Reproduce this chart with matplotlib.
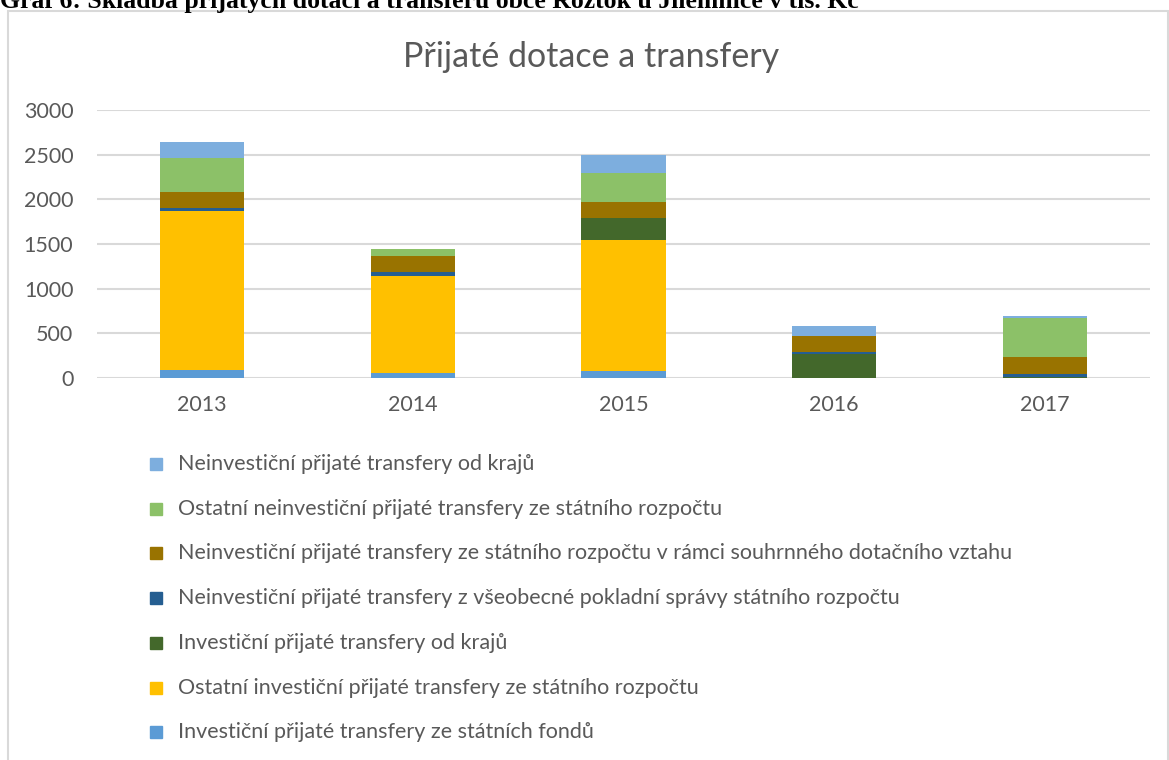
import numpy as np
import matplotlib.pyplot as plt
from matplotlib.patches import Rectangle

plt.rcParams['font.family'] = ['Lato', 'DejaVu Sans']

# data (tis. Kč)
years = ['2013', '2014', '2015', '2016', '2017']
series_names = [
    'Investiční přijaté transfery ze státních fondů',
    'Ostatní investiční přijaté transfery ze státního rozpočtu',
    'Investiční přijaté transfery od krajů',
    'Neinvestiční přijaté transfery z všeobecné pokladní správy státního rozpočtu',
    'Neinvestiční přijaté transfery ze státního rozpočtu v rámci souhrnného dotačního vztahu',
    'Ostatní neinvestiční přijaté transfery ze státního rozpočtu',
    'Neinvestiční přijaté transfery od krajů',
]
fondy = [93, 52, 75, 0, 0]
ostatni_inv = [1774, 1094, 1468, 0, 0]
inv_kraje = [0, 0, 253, 272, 15]
vseobecna = [40, 41, 0, 23, 33]
souhrnny = [176, 179, 175, 175, 183]
ostatni_neinv = [381, 75, 328, 0, 441]
neinv_kraje = [179, 0, 202, 112, 22]
colors = ['#5B9BD5', '#FFC000', '#43682B', '#255E91', '#997300', '#8CC168', '#7DAEDE']

values = [fondy, ostatni_inv, inv_kraje, vseobecna, souhrnny, ostatni_neinv, neinv_kraje]

W, H = 1169, 760
fig = plt.figure(figsize=(W / 100, H / 100), dpi=100)

# chart frame
fig.patches.append(Rectangle((8 / W, -0.1), (1168 - 8) / W, 1.1 - 11 / H,
                             transform=fig.transFigure, fill=False,
                             edgecolor='#d9d9d9', linewidth=1.5))

# caption above the chart (cut off at the top, as in the document)
fig.text(0 / W, 1 - 8 / H, 'Graf 6: Skladba přijatých dotací a transferů obce Roztok u Jilemnice v tis. Kč',
         family='Liberation Serif', fontweight='bold', fontsize=18.5, va='baseline', ha='left')

ax = fig.add_axes([97 / W, 1 - 378 / H, (1150 - 97) / W, (378 - 110) / H])
x = np.arange(len(years))
bottom = np.zeros(len(years))
for name, vals, c in zip(series_names, values, colors):
    ax.bar(x, vals, 0.4, bottom=bottom, color=c, label=name, zorder=3)
    bottom += np.array(vals)

ax.set_xlim(-0.5, len(years) - 0.5)
ax.set_ylim(0, 3000)
ax.set_yticks(range(0, 3001, 500))
ax.set_xticks(x)
ax.set_xticklabels(years)
ax.grid(axis='y', color='#d9d9d9', linewidth=1.5, zorder=0)
for s in ax.spines.values():
    s.set_visible(False)
ax.tick_params(length=0, labelsize=15.5, colors='#595959')
ax.tick_params(axis='y', pad=17)
ax.tick_params(axis='x', pad=12)

fig.text(591 / W, 1 - 57 / H, 'Přijaté dotace a transfery', fontsize=24.5,
         color='#595959', ha='center', va='center')

# legend, one entry per row, top entry is the top series
for i, (name, c) in enumerate(zip(series_names[::-1], colors[::-1])):
    yc = 464 + i * 44.7
    fig.patches.append(Rectangle((150 / W, 1 - (yc + 6) / H), 12 / W, 12 / H,
                                 transform=fig.transFigure, color=c))
    fig.text(178 / W, 1 - yc / H, name, fontsize=15.5, color='#595959',
             ha='left', va='center')

fig.savefig('out.png', dpi=100)
